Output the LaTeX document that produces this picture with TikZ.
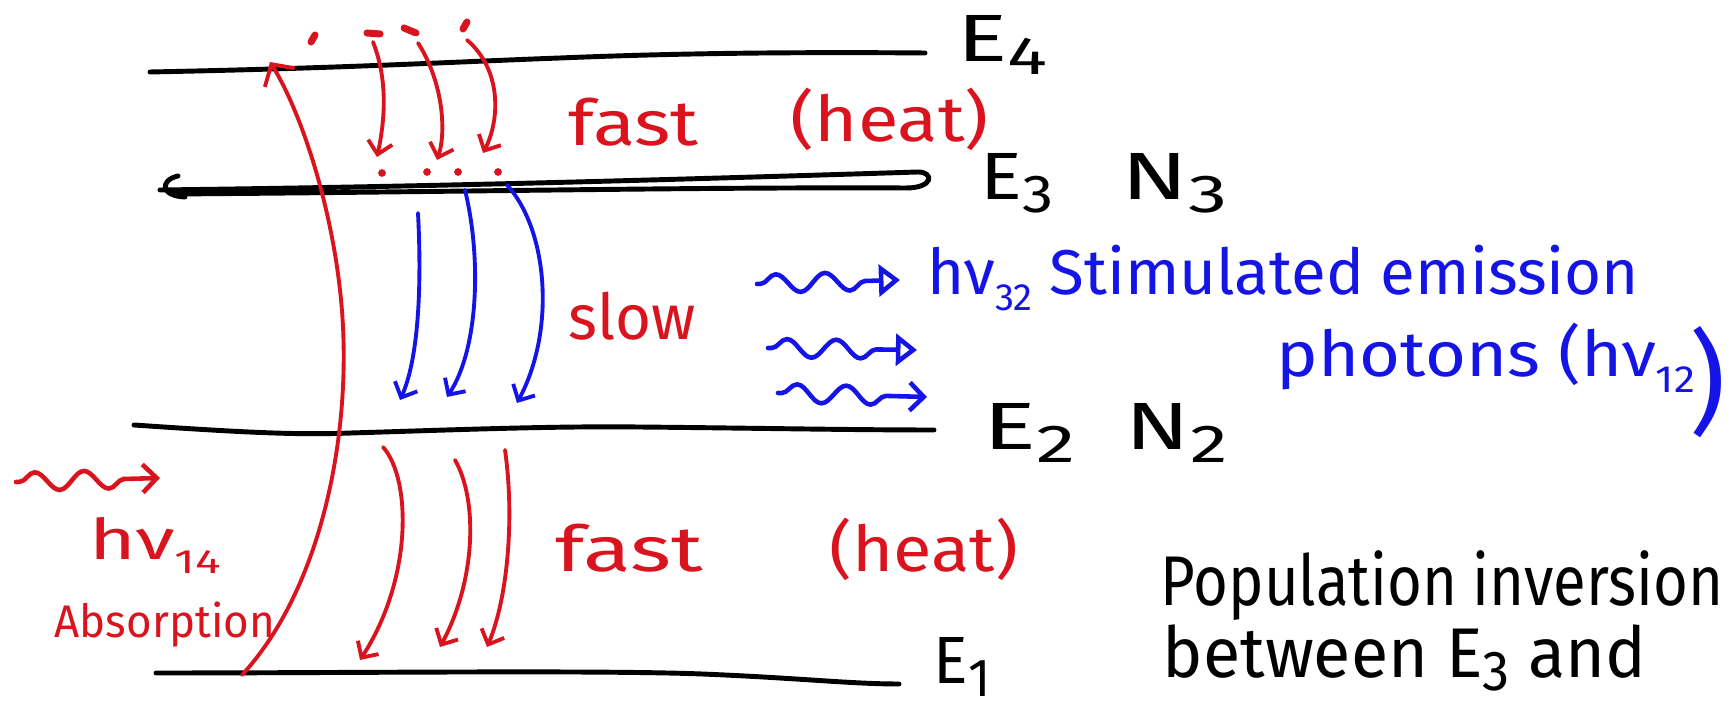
\documentclass[tikz,border=0pt]{standalone}
\usepackage{fontspec}
\setmainfont{Fira Sans}
\usepackage{graphicx}
\usetikzlibrary{arrows.meta,decorations.pathmorphing}
\definecolor{hred}{RGB}{218,20,30}
\definecolor{hblue}{RGB}{20,20,230}
\newcommand\fw[2]{\resizebox{#1cm}{\height}{#2}}
\newcommand\lw[1]{\raisebox{-0.35ex}{\scalebox{0.8}{#1}}}
\newcommand\sbs[1]{\raisebox{-0.45ex}{\scalebox{0.6}{#1}}}
\tikzset{
  lvl/.style={line width=1.4pt, line cap=round, black},
  redarr/.style={hred, line width=1.1pt, line cap=round, -{Straight Barb[length=3.5pt,width=7pt]}},
  bluearr/.style={hblue, line width=1.1pt, line cap=round, -{Straight Barb[length=3.5pt,width=7pt]}},
  wavy/.style={line width=1.3pt, line cap=round, decorate,
    decoration={snake, amplitude=2.6pt, segment length=14pt, pre length=1pt, post length=6pt}},
  rdash/.style={hred, line width=2pt, line cap=round},
  txt/.style={inner sep=0pt, anchor=base west},
  bigtxt/.style={txt, font=\fontsize{19}{22}\selectfont},
  midtxt/.style={txt, font=\fontsize{18}{21}\selectfont},
}
\begin{document}
\begin{tikzpicture}[x=0.01cm,y=-0.01cm]
\useasboundingbox (0,0) rectangle (1732,707);

% energy levels
\coordinate (E4a) at (150,72);  \coordinate (E4b) at (925,53);
\coordinate (E3a) at (160,190); \coordinate (E3b) at (918,172);
\coordinate (E2a) at (134,425); \coordinate (E2b) at (934,430);
\coordinate (E1a) at (156,673); \coordinate (E1b) at (899,684);
\draw[lvl] (E4a) .. controls (350,68) and (450,62) .. (560,58) .. controls (680,53) and (800,52) .. (E4b);
\draw[lvl] (E3a) .. controls (400,187) and (600,182) .. (E3b)
   .. controls (934,172) and (934,188) .. (906,188)
   .. controls (700,187) and (450,192) .. (175,194);
\draw[lvl] (178,176) .. controls (160,180) and (160,196) .. (185,197);
\draw[lvl] (E2a) .. controls (250,433) and (300,435) .. (351,433) .. controls (450,430) and (550,426) .. (638,427) .. controls (750,428) and (850,430) .. (E2b);
\draw[lvl] (E1a) .. controls (350,673) and (600,670) .. (702,674) .. controls (800,678) and (850,684) .. (E1b);

% level labels
\node[bigtxt] (lE4) at (957,62) {\fw{0.90}{E\lw{4}}};
\node[bigtxt] (lE3) at (980,200) {\fw{0.73}{E\lw{3}}};
\node[bigtxt] (lN3) at (1121,200) {\fw{1.06}{N\lw{3}}};
\node[bigtxt] (lE2) at (983,450) {\fw{0.92}{E\lw{2}}};
\node[bigtxt] (lN2) at (1125,450) {\fw{1.02}{N\lw{2}}};
\node[bigtxt] (lE1) at (933,684) {\fw{0.57}{E\lw{1}}};

% absorption (pump) arrow E1 -> E4
\coordinate (absA) at (242,675);
\coordinate (absB) at (270,62);
\draw[hred, line width=1.1pt, line cap=round, -{Straight Barb[length=4.5pt,width=10pt]}]
  (absA) .. controls (325,585) and (355,420) .. (340,290) .. controls (330,200) and (300,110) .. (absB);

% fast decay E4 -> E3
\coordinate (t1a) at (373,42);  \coordinate (t1b) at (377,157);
\coordinate (t2a) at (418,43);  \coordinate (t2b) at (437,160);
\coordinate (t3a) at (467,40);  \coordinate (t3b) at (483,153);
\draw[redarr] (t1a) .. controls (388,80) and (385,120) .. (t1b);
\draw[redarr] (t2a) .. controls (442,80) and (447,130) .. (t2b);
\draw[redarr] (t3a) .. controls (502,70) and (500,120) .. (t3b);
\draw[rdash] (311,42) -- (315,35);
\draw[rdash] (367,33) -- (380,34);
\draw[rdash] (404,28) -- (416,33);
\draw[rdash] (463,29) -- (467,22);
\foreach \p in {(382,173),(427,172),(458,172),(498,172)}
  \fill[hred] \p circle (1.1pt);

\node[midtxt, hred] (fast1) at (568,146) {\fw{1.30}{fast}};
\node[midtxt, hred] (heat1) at (790,142) {\fw{1.98}{(heat)}};

% slow decay E3 -> E2
\coordinate (b1a) at (418,213); \coordinate (b1b) at (400,400);
\coordinate (b2a) at (465,190); \coordinate (b2b) at (447,397);
\coordinate (b3a) at (507,185); \coordinate (b3b) at (517,403);
\draw[bluearr] (b1a) .. controls (422,290) and (418,360) .. (b1b);
\draw[bluearr] (b2a) .. controls (482,260) and (478,350) .. (b2b);
\draw[bluearr] (b3a) .. controls (548,230) and (556,330) .. (b3b);
\node[midtxt, hred] (slow) at (568,340) {\fw{1.27}{slow}};

% stimulated emission photons
\coordinate (w1a) at (757,284); \coordinate (w1b) at (900,280);
\coordinate (w2a) at (768,348); \coordinate (w2b) at (917,350);
\coordinate (w3a) at (778,393); \coordinate (w3b) at (927,397);
\draw[wavy, hblue, -{Triangle[open,length=6pt,width=9pt]}] (w1a) -- (w1b);
\draw[wavy, hblue, -{Triangle[open,length=6pt,width=9pt]}] (w2a) -- (w2b);
\draw[wavy, hblue, -{Straight Barb[length=4pt,width=8pt]}] (w3a) -- (w3b);
\node[midtxt, hblue] (stim) at (927,295) {\fw{7.11}{hν\sbs{32} Stimulated emission}};
\node[midtxt, hblue] (phot) at (1276,377) {\fw{4.18}{photons (hν\sbs{12}}};
\node[inner sep=0pt, hblue, font=\fontsize{32}{36}\selectfont] (paren) at (1708,382) {)};

% pump photon
\coordinate (wra) at (16,482); \coordinate (wrb) at (160,478);
\draw[wavy, hred, -{Straight Barb[length=4pt,width=8pt]}] (wra) -- (wrb);
\node[txt, hred, font=\fontsize{16}{19}\selectfont] (hn14) at (89,560) {\fw{1.31}{hν\sbs{14}}};
\node[txt, hred, font=\fontsize{13}{15}\selectfont] (absl) at (54,638) {\fw{2.20}{Absorption}};

% fast decay E2 -> E1
\coordinate (r1a) at (383,447); \coordinate (r1b) at (360,660);
\coordinate (r2a) at (455,460); \coordinate (r2b) at (440,647);
\coordinate (r3a) at (505,450); \coordinate (r3b) at (487,647);
\draw[redarr] (r1a) .. controls (412,480) and (412,580) .. (r1b);
\draw[redarr] (r2a) .. controls (478,500) and (476,580) .. (r2b);
\draw[redarr] (r3a) .. controls (515,520) and (507,600) .. (r3b);
\node[midtxt, hred] (fast2) at (555,572) {\fw{1.47}{fast}};
\node[midtxt, hred] (heat2) at (829,572) {\fw{1.88}{(heat)}};

% population inversion note
\node[txt, font=\fontsize{20}{23}\selectfont] (pop) at (1160,606) {\fw{5.62}{Population inversion}};
\node[txt, font=\fontsize{20}{23}\selectfont] (betw) at (1162,678) {\fw{4.83}{between E\lw{3} and}};
\end{tikzpicture}
\end{document}
